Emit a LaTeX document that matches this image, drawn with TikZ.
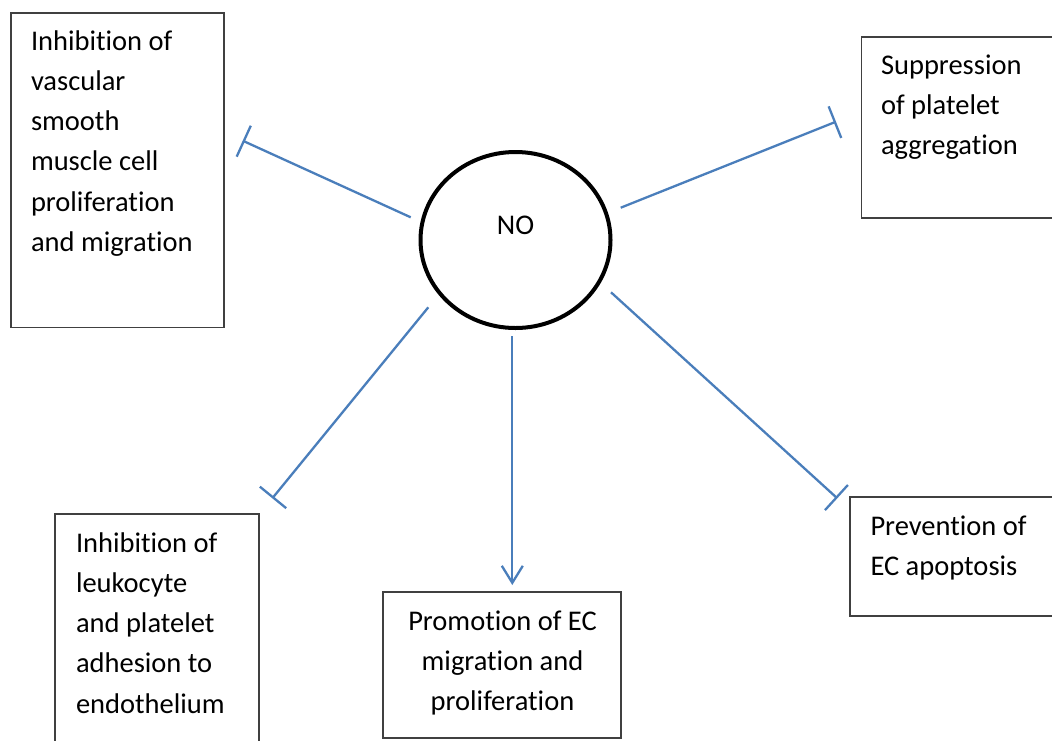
\documentclass[tikz,border=0pt]{standalone}
\usepackage{fontspec}
\setmainfont{Carlito}[Ligatures={NoCommon,NoRare}]
\usetikzlibrary{arrows.meta,shapes.geometric}
\definecolor{linkblue}{RGB}{74,126,187}
\definecolor{boxline}{RGB}{64,64,64}
\begin{document}
\begin{tikzpicture}[x=1pt,y=-1pt,
  boxframe/.style={draw=boxline,line width=1.3pt},
  txt/.style={inner sep=0pt,outer sep=0pt,font=\fontsize{28.5}{40.3}\selectfont,text=black},
  nocircle/.style={ellipse,draw=black,line width=4pt,minimum width=190pt,minimum height=176pt,inner sep=0pt},
  inhib/.style={draw=linkblue,line width=2.3pt,-{Bar[width=34pt,line width=2.3pt]}},
  promote/.style={draw=linkblue,line width=2.3pt,-{Straight Barb[length=17pt,width=21pt,line width=2.3pt]}}]
\useasboundingbox (0,0) rectangle (1052,740);
\clip (0,0) rectangle (1052,740);
\fill[white] (0,0) rectangle (1052,740);

% boxes
\draw[boxframe] (11,13) rectangle (224,327.5);
\draw[boxframe] (861.5,37) rectangle (1070,218);
\draw[boxframe] (850,497) rectangle (1070,616);
\draw[boxframe] (55,514) rectangle (259,760);
\draw[boxframe] (383,592) rectangle (621,738);

% texts
\node[txt,anchor=north west,align=left] (t1) at (31,28) {\rule{0pt}{22pt}Inhibition of\\vascular\\smooth\\muscle cell\\proliferation\\and migration};
\node[txt,anchor=north west,align=left] (t2) at (881,52) {\rule{0pt}{22pt}Suppression\\of platelet\\aggregation};
\node[txt,anchor=north west,align=left] (t3) at (870.5,513) {\rule{0pt}{22pt}Prevention of\\EC apoptosis};
\node[txt,anchor=north west,align=left] (t4) at (76,530) {\rule{0pt}{22pt}Inhibition of\\leukocyte\\and platelet\\adhesion to\\endothelium};
\node[txt,anchor=north,align=center] (t5) at (502.5,608) {\rule{0pt}{22pt}Promotion of EC\\migration and\\proliferation};

% central NO
\node[nocircle] (no) at (515.5,240) {};
\node[txt,anchor=base] (nolabel) at (515.5,234) {NO};

% connector end points
\coordinate (s1) at (410.7,217.3);
\coordinate (e1) at (242.7,140.7);
\coordinate (s2) at (620.7,207.7);
\coordinate (e2) at (836,121.7);
\coordinate (s3) at (428.3,307.3);
\coordinate (e3) at (272.3,498.3);
\coordinate (s4) at (611,292.3);
\coordinate (e4) at (837.3,498.3);
\coordinate (s5) at (512.3,336);
\coordinate (e5) at (512.3,585);

\draw[inhib] (s1) -- (e1);
\draw[inhib] (s2) -- (e2);
\draw[inhib] (s3) -- (e3);
\draw[inhib] (s4) -- (e4);
\draw[promote] (s5) -- (e5);
\end{tikzpicture}
\end{document}
